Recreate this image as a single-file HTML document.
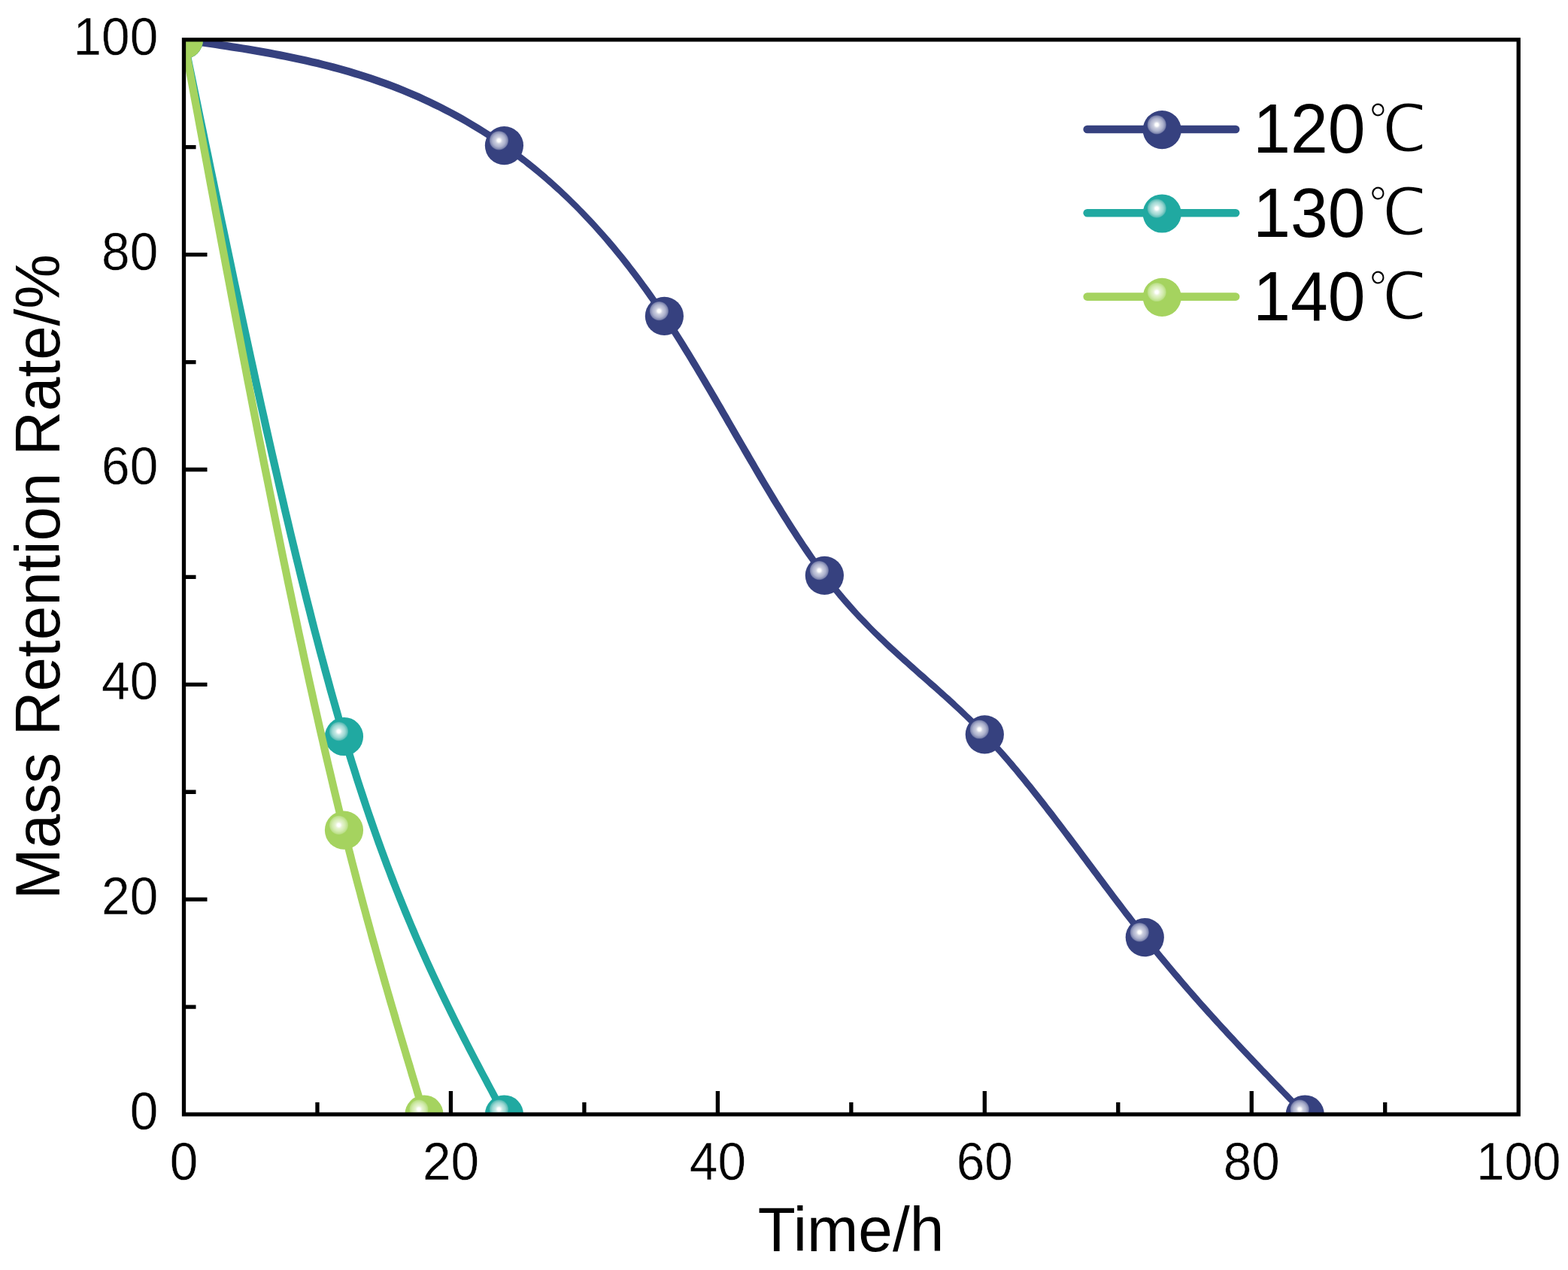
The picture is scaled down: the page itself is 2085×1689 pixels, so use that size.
<!DOCTYPE html>
<html lang="en"><head><meta charset="utf-8"><title>Mass Retention Rate vs Time</title>
<style>html,body{margin:0;padding:0;background:#fff;}body{width:2085px;height:1689px;overflow:hidden;}svg{display:block;}text{font-family:"Liberation Sans",sans-serif;fill:#000;stroke:#fff;stroke-width:0.4px;}.cjk{font-family:"Liberation Sans","WenQuanYi Zen Hei","Noto Sans CJK SC",sans-serif;}</style></head><body>
<svg width="2085" height="1689" viewBox="0 0 2085 1689">
<defs>
<clipPath id="plot"><rect x="244.50" y="52.80" width="1774.70" height="1429.20"/></clipPath>
<radialGradient id="g0" cx="0.5" cy="0.5" r="0.5"><stop offset="0" stop-color="#ffffff"/><stop offset="0.15" stop-color="#ffffff"/><stop offset="0.36" stop-color="#cdd0e0"/><stop offset="0.68" stop-color="#acb1cc"/><stop offset="0.9" stop-color="#848bb2"/><stop offset="1" stop-color="#5f689a"/></radialGradient>
<g id="m0"><circle cx="0" cy="0" r="25.60" fill="#36417f"/><circle cx="-7" cy="-6.8" r="12.6" fill="url(#g0)"/></g>
<radialGradient id="g1" cx="0.5" cy="0.5" r="0.5"><stop offset="0" stop-color="#ffffff"/><stop offset="0.15" stop-color="#ffffff"/><stop offset="0.36" stop-color="#c8e9e6"/><stop offset="0.68" stop-color="#9cd7d2"/><stop offset="0.9" stop-color="#68c1bb"/><stop offset="1" stop-color="#44b4ad"/></radialGradient>
<g id="m1"><circle cx="0" cy="0" r="25.60" fill="#20a9a1"/><circle cx="-7" cy="-6.8" r="12.6" fill="url(#g1)"/></g>
<radialGradient id="g2" cx="0.5" cy="0.5" r="0.5"><stop offset="0" stop-color="#ffffff"/><stop offset="0.15" stop-color="#ffffff"/><stop offset="0.36" stop-color="#e6f3d1"/><stop offset="0.68" stop-color="#d2ebad"/><stop offset="0.9" stop-color="#bfe18e"/><stop offset="1" stop-color="#b0db75"/></radialGradient>
<g id="m2"><circle cx="0" cy="0" r="25.60" fill="#a5d35f"/><circle cx="-7" cy="-6.8" r="12.6" fill="url(#g2)"/></g>
</defs>
<rect x="0" y="0" width="2085" height="1689" fill="#ffffff"/>
<g clip-path="url(#plot)">
<path d="M243.8 57.9L250.9 58.9L258.0 60.0L265.1 61.0L272.1 62.0L279.2 63.1L286.3 64.1L293.4 65.2L300.5 66.3L307.6 67.4L314.7 68.5L321.8 69.6L328.8 70.8L335.9 72.0L343.0 73.2L350.1 74.4L357.2 75.7L364.2 77.0L371.3 78.4L378.4 79.8L385.4 81.2L392.5 82.7L399.6 84.2L406.6 85.8L413.7 87.4L420.8 89.0L427.8 90.8L434.9 92.6L442.0 94.4L449.0 96.3L456.1 98.3L463.1 100.3L470.2 102.4L477.3 104.5L484.3 106.8L491.4 109.1L498.4 111.5L505.5 113.9L512.5 116.5L519.6 119.1L526.6 121.8L533.7 124.6L540.8 127.5L547.8 130.5L554.9 133.6L561.9 136.7L569.0 140.0L576.0 143.4L583.1 146.8L590.1 150.4L597.2 154.1L604.3 157.9L611.3 161.8L618.4 165.8L625.4 169.9L632.5 174.2L639.6 178.5L646.6 183.0L653.7 187.7L660.8 192.4L667.8 197.3L671.4 199.8L674.9 202.3L678.4 204.8L682.0 207.4L685.5 210.0L689.0 212.7L692.6 215.4L696.1 218.1L699.6 220.9L703.2 223.7L706.7 226.5L710.3 229.4L713.8 232.3L717.3 235.3L720.9 238.3L724.4 241.3L728.0 244.4L731.5 247.5L735.0 250.7L738.6 253.9L742.1 257.1L745.7 260.4L749.2 263.8L752.7 267.1L756.3 270.6L759.8 274.0L763.4 277.5L766.9 281.1L770.4 284.8L773.9 288.4L777.4 292.2L781.0 295.9L784.5 299.8L788.0 303.6L791.5 307.5L795.0 311.5L798.6 315.5L802.1 319.6L805.6 323.7L809.1 327.9L812.6 332.1L816.2 336.4L819.7 340.7L823.2 345.1L826.7 349.5L830.2 354.0L833.8 358.6L837.3 363.2L840.8 367.8L844.3 372.6L847.9 377.3L851.4 382.2L854.9 387.0L858.4 392.0L861.9 397.0L865.5 402.1L869.0 407.2L872.5 412.4L876.1 417.6L879.6 422.9L883.1 428.3L886.6 433.7L890.2 439.2L893.7 444.7L897.2 450.3L900.8 456.0L904.3 461.7L907.8 467.4L911.4 473.2L914.9 479.0L918.4 484.9L922.0 490.8L925.5 496.7L929.1 502.7L932.6 508.7L936.1 514.7L939.7 520.7L943.2 526.8L946.8 532.9L950.3 538.9L953.9 545.1L957.4 551.2L961.0 557.3L964.5 563.4L968.1 569.6L971.6 575.7L975.2 581.9L978.7 588.0L982.3 594.1L985.8 600.3L989.4 606.4L992.9 612.5L996.5 618.5L1000.0 624.6L1003.6 630.7L1007.1 636.7L1010.7 642.7L1014.3 648.7L1017.8 654.6L1021.4 660.5L1024.9 666.4L1028.5 672.2L1032.1 678.0L1035.6 683.8L1039.2 689.5L1042.8 695.1L1046.3 700.7L1049.9 706.3L1053.5 711.8L1057.0 717.3L1060.6 722.6L1064.2 728.0L1067.7 733.2L1071.3 738.4L1074.9 743.6L1078.5 748.6L1082.1 753.6L1085.6 758.5L1089.2 763.3L1092.8 768.1L1096.4 772.7L1100.0 777.3L1103.6 781.8L1107.2 786.2L1110.8 790.6L1114.4 794.9L1117.9 799.1L1121.5 803.2L1125.1 807.2L1128.7 811.2L1132.3 815.2L1135.9 819.1L1139.5 822.9L1143.0 826.6L1146.6 830.3L1150.2 834.0L1153.8 837.6L1157.4 841.2L1160.9 844.7L1164.5 848.2L1168.0 851.7L1171.6 855.1L1175.1 858.5L1178.7 861.9L1182.2 865.2L1185.8 868.5L1189.4 871.8L1192.9 875.0L1196.5 878.2L1200.0 881.4L1203.6 884.6L1207.1 887.8L1210.7 890.9L1214.2 894.1L1217.8 897.2L1221.3 900.4L1224.9 903.5L1228.4 906.6L1232.0 909.7L1235.5 912.9L1239.1 916.0L1242.6 919.1L1246.2 922.3L1249.7 925.5L1253.3 928.6L1256.8 931.8L1260.3 935.0L1263.9 938.3L1267.4 941.5L1271.0 944.8L1274.5 948.1L1278.1 951.5L1281.6 954.8L1285.2 958.2L1288.7 961.7L1292.2 965.2L1295.8 968.7L1299.3 972.3L1302.8 975.9L1306.3 979.6L1309.8 983.4L1313.4 987.2L1316.9 991.0L1320.4 994.9L1323.9 998.9L1327.4 1002.8L1331.0 1006.9L1334.5 1010.9L1338.0 1015.1L1341.5 1019.2L1345.1 1023.4L1348.6 1027.6L1352.1 1031.9L1355.7 1036.2L1359.2 1040.5L1362.7 1044.9L1366.3 1049.3L1369.8 1053.8L1373.3 1058.2L1376.9 1062.7L1380.4 1067.2L1383.9 1071.7L1387.5 1076.3L1391.0 1080.9L1394.6 1085.5L1398.1 1090.1L1401.6 1094.8L1405.2 1099.4L1408.7 1104.1L1412.3 1108.8L1415.8 1113.5L1419.3 1118.2L1422.9 1122.9L1426.4 1127.6L1430.0 1132.4L1433.5 1137.1L1437.1 1141.9L1440.6 1146.6L1444.2 1151.4L1447.7 1156.1L1451.3 1160.9L1454.8 1165.6L1458.4 1170.4L1461.9 1175.1L1465.5 1179.9L1469.0 1184.6L1472.6 1189.3L1476.1 1194.0L1479.7 1198.7L1483.3 1203.4L1486.8 1208.1L1490.4 1212.8L1493.9 1217.4L1497.5 1222.0L1501.0 1226.6L1504.6 1231.2L1508.2 1235.8L1511.7 1240.3L1515.3 1244.8L1518.9 1249.3L1522.4 1253.8L1526.0 1258.2L1529.5 1262.6L1533.1 1267.0L1536.7 1271.4L1540.2 1275.7L1543.8 1280.0L1547.4 1284.3L1550.9 1288.6L1554.5 1292.8L1558.0 1297.0L1561.6 1301.2L1565.2 1305.4L1568.7 1309.5L1572.3 1313.7L1575.8 1317.8L1579.4 1321.8L1583.0 1325.9L1586.5 1330.0L1590.1 1334.0L1593.6 1338.0L1597.2 1342.0L1600.8 1346.0L1604.3 1349.9L1607.9 1353.8L1611.4 1357.8L1615.0 1361.7L1618.6 1365.6L1622.1 1369.5L1625.7 1373.3L1629.2 1377.2L1632.8 1381.0L1636.4 1384.8L1639.9 1388.6L1643.5 1392.4L1647.0 1396.2L1650.6 1400.0L1654.1 1403.8L1657.7 1407.5L1661.2 1411.3L1664.8 1415.0L1668.4 1418.7L1671.9 1422.5L1675.5 1426.2L1679.0 1429.9L1682.6 1433.6L1686.1 1437.3L1689.7 1440.9L1693.2 1444.6L1696.8 1448.3L1700.3 1452.0L1703.9 1455.6L1707.4 1459.3L1711.0 1463.0L1714.5 1466.6L1718.1 1470.3L1721.6 1473.9L1725.2 1477.6L1728.7 1481.2L1732.3 1484.9L1738.2 1479.1L1734.7 1475.5L1731.1 1471.8L1727.6 1468.2L1724.0 1464.5L1720.5 1460.9L1716.9 1457.2L1713.4 1453.6L1709.8 1449.9L1706.3 1446.2L1702.7 1442.6L1699.2 1438.9L1695.6 1435.2L1692.1 1431.5L1688.5 1427.8L1685.0 1424.1L1681.4 1420.4L1677.9 1416.7L1674.4 1413.0L1670.8 1409.3L1667.3 1405.6L1663.7 1401.8L1660.2 1398.1L1656.6 1394.3L1653.1 1390.5L1649.6 1386.7L1646.0 1382.9L1642.5 1379.1L1638.9 1375.3L1635.4 1371.5L1631.9 1367.6L1628.3 1363.8L1624.8 1359.9L1621.2 1356.0L1617.7 1352.1L1614.2 1348.2L1610.6 1344.3L1607.1 1340.3L1603.5 1336.3L1600.0 1332.4L1596.5 1328.4L1592.9 1324.3L1589.4 1320.3L1585.8 1316.2L1582.3 1312.2L1578.8 1308.1L1575.2 1303.9L1571.7 1299.8L1568.2 1295.6L1564.6 1291.5L1561.1 1287.3L1557.5 1283.0L1554.0 1278.8L1550.5 1274.5L1546.9 1270.2L1543.4 1265.9L1539.9 1261.5L1536.3 1257.2L1532.8 1252.8L1529.3 1248.3L1525.7 1243.9L1522.2 1239.4L1518.6 1234.9L1515.1 1230.4L1511.6 1225.8L1508.0 1221.2L1504.5 1216.6L1500.9 1212.0L1497.4 1207.4L1493.9 1202.7L1490.3 1198.1L1486.8 1193.4L1483.2 1188.7L1479.7 1184.0L1476.1 1179.3L1472.6 1174.5L1469.1 1169.8L1465.5 1165.1L1462.0 1160.3L1458.4 1155.6L1454.9 1150.8L1451.3 1146.0L1447.8 1141.3L1444.2 1136.5L1440.7 1131.8L1437.1 1127.0L1433.6 1122.3L1430.0 1117.6L1426.5 1112.8L1422.9 1108.1L1419.3 1103.4L1415.8 1098.7L1412.2 1094.1L1408.7 1089.4L1405.1 1084.7L1401.6 1080.1L1398.0 1075.5L1394.4 1070.9L1390.9 1066.3L1387.3 1061.8L1383.8 1057.3L1380.2 1052.8L1376.6 1048.3L1373.1 1043.8L1369.5 1039.4L1365.9 1035.1L1362.4 1030.7L1358.8 1026.4L1355.2 1022.1L1351.7 1017.9L1348.1 1013.6L1344.5 1009.5L1340.9 1005.3L1337.4 1001.3L1333.8 997.2L1330.2 993.2L1326.6 989.3L1323.1 985.3L1319.5 981.5L1315.9 977.7L1312.3 973.9L1308.7 970.2L1305.2 966.6L1301.6 962.9L1298.0 959.4L1294.5 955.8L1290.9 952.3L1287.3 948.9L1283.8 945.4L1280.2 942.1L1276.7 938.7L1273.1 935.4L1269.6 932.1L1266.0 928.8L1262.5 925.6L1258.9 922.4L1255.4 919.2L1251.8 916.0L1248.2 912.8L1244.7 909.6L1241.1 906.5L1237.6 903.4L1234.0 900.2L1230.5 897.1L1226.9 894.0L1223.4 890.9L1219.8 887.7L1216.3 884.6L1212.8 881.4L1209.2 878.3L1205.7 875.1L1202.1 872.0L1198.6 868.8L1195.0 865.6L1191.5 862.3L1187.9 859.1L1184.4 855.8L1180.8 852.5L1177.3 849.1L1173.8 845.7L1170.2 842.3L1166.7 838.9L1163.1 835.4L1159.6 831.9L1156.1 828.3L1152.6 824.6L1149.1 820.9L1145.5 817.2L1142.0 813.4L1138.5 809.5L1135.0 805.6L1131.5 801.6L1128.0 797.6L1124.5 793.5L1121.0 789.3L1117.4 785.1L1113.9 780.7L1110.4 776.4L1106.9 771.9L1103.4 767.3L1099.9 762.7L1096.4 758.0L1092.9 753.2L1089.4 748.3L1085.8 743.4L1082.3 738.4L1078.8 733.3L1075.3 728.1L1071.7 722.9L1068.2 717.6L1064.7 712.2L1061.2 706.8L1057.6 701.3L1054.1 695.8L1050.6 690.2L1047.0 684.6L1043.5 678.9L1040.0 673.1L1036.4 667.4L1032.9 661.5L1029.4 655.7L1025.8 649.8L1022.3 643.9L1018.7 637.9L1015.2 631.9L1011.7 625.9L1008.1 619.9L1004.6 613.8L1001.0 607.7L997.5 601.6L993.9 595.5L990.4 589.4L986.8 583.3L983.3 577.2L979.7 571.0L976.2 564.9L972.6 558.7L969.1 552.6L965.5 546.5L962.0 540.3L958.4 534.2L954.9 528.1L951.3 522.0L947.8 516.0L944.2 509.9L940.7 503.9L937.1 497.9L933.5 491.9L930.0 486.0L926.4 480.1L922.9 474.2L919.3 468.3L915.7 462.5L912.2 456.8L908.6 451.1L905.1 445.4L901.5 439.8L897.9 434.2L894.3 428.7L890.8 423.3L887.2 417.9L883.6 412.5L880.1 407.3L876.5 402.0L872.9 396.9L869.3 391.8L865.8 386.8L862.2 381.8L858.6 376.9L855.0 372.0L851.5 367.2L847.9 362.5L844.3 357.8L840.7 353.2L837.2 348.6L833.6 344.1L830.0 339.6L826.4 335.2L822.9 330.9L819.3 326.6L815.7 322.3L812.1 318.1L808.5 314.0L805.0 309.9L801.4 305.9L797.8 301.9L794.2 298.0L790.6 294.1L787.1 290.2L783.5 286.5L779.9 282.7L776.3 279.0L772.7 275.4L769.2 271.8L765.6 268.2L762.0 264.7L758.5 261.2L754.9 257.8L751.4 254.4L747.8 251.0L744.3 247.7L740.7 244.4L737.1 241.2L733.6 238.0L730.0 234.9L726.5 231.8L722.9 228.7L719.3 225.7L715.8 222.7L712.2 219.8L708.7 216.9L705.1 214.0L701.5 211.2L698.0 208.4L694.4 205.7L690.8 202.9L687.3 200.3L683.7 197.6L680.2 195.0L676.6 192.4L673.0 189.9L665.9 184.9L658.8 180.0L651.6 175.3L644.5 170.7L637.4 166.2L630.2 161.9L623.1 157.7L616.0 153.6L608.8 149.6L601.7 145.7L594.5 141.9L587.4 138.2L580.3 134.7L573.1 131.2L566.0 127.9L558.8 124.6L551.7 121.5L544.5 118.4L537.4 115.5L530.3 112.6L523.1 109.8L516.0 107.1L508.8 104.5L501.7 102.0L494.5 99.6L487.4 97.2L480.3 94.9L473.1 92.7L466.0 90.6L458.8 88.5L451.7 86.5L444.6 84.6L437.4 82.7L430.3 80.9L423.2 79.1L416.0 77.4L408.9 75.8L401.8 74.2L394.6 72.7L387.5 71.2L380.4 69.7L373.3 68.3L366.1 66.9L359.0 65.6L351.9 64.3L344.8 63.0L337.6 61.8L330.5 60.6L323.4 59.4L316.3 58.3L309.2 57.2L302.1 56.1L295.0 55.0L287.9 53.9L280.7 52.8L273.6 51.8L266.5 50.8L259.4 49.7L252.3 48.7L245.2 47.7Z" fill="#36417f"/>
<use href="#m0" x="244.50" y="52.80"/>
<use href="#m0" x="670.43" y="193.58"/>
<use href="#m0" x="883.39" y="420.39"/>
<use href="#m0" x="1096.36" y="765.40"/>
<use href="#m0" x="1309.32" y="976.78"/>
<use href="#m0" x="1522.28" y="1246.61"/>
<use href="#m0" x="1735.25" y="1482.00"/>
<path d="M239.5 53.8L243.0 71.0L246.6 88.3L250.1 105.5L253.7 122.7L257.2 139.8L260.8 157.0L264.3 174.2L267.9 191.3L271.4 208.4L275.0 225.5L278.5 242.5L282.1 259.5L285.6 276.5L289.2 293.5L292.7 310.4L296.3 327.2L299.8 344.1L303.4 360.8L306.9 377.5L310.5 394.2L314.0 410.8L317.6 427.3L321.1 443.8L324.7 460.2L328.2 476.5L331.8 492.8L335.3 509.0L338.9 525.1L342.4 541.1L346.0 557.0L349.5 572.9L353.1 588.6L356.6 604.3L360.2 619.9L363.8 635.3L367.3 650.7L370.9 665.9L374.4 681.1L378.0 696.1L381.5 711.1L385.1 725.9L388.6 740.5L392.2 755.1L395.7 769.5L399.3 783.8L402.8 798.0L406.4 812.1L409.9 826.0L413.5 839.7L417.1 853.3L420.6 866.8L424.2 880.1L427.7 893.3L431.3 906.3L434.8 919.2L438.4 931.8L442.0 944.4L445.5 956.7L449.1 968.9L452.6 980.9L456.2 992.8L459.7 1004.4L463.3 1015.9L466.9 1027.3L470.4 1038.4L474.0 1049.4L477.5 1060.3L481.1 1071.0L484.7 1081.5L488.2 1091.9L491.8 1102.1L495.4 1112.2L498.9 1122.2L502.5 1132.0L506.0 1141.6L509.6 1151.2L513.2 1160.6L516.7 1169.9L520.3 1179.0L523.9 1188.1L527.4 1197.0L531.0 1205.8L534.5 1214.5L538.1 1223.1L541.7 1231.6L545.2 1240.0L548.8 1248.2L552.4 1256.4L555.9 1264.5L559.5 1272.5L563.1 1280.4L566.6 1288.2L570.2 1296.0L573.7 1303.6L577.3 1311.2L580.9 1318.7L584.4 1326.1L588.0 1333.5L591.6 1340.8L595.1 1348.1L598.7 1355.2L602.2 1362.4L605.8 1369.4L609.4 1376.4L612.9 1383.4L616.5 1390.3L620.0 1397.2L623.6 1404.1L627.2 1410.9L630.7 1417.7L634.3 1424.4L637.8 1431.1L641.4 1437.8L644.9 1444.5L648.5 1451.1L652.0 1457.8L655.6 1464.4L659.1 1471.0L662.7 1477.6L666.2 1484.3L674.6 1479.7L671.1 1473.1L667.5 1466.5L664.0 1459.9L660.4 1453.3L656.9 1446.7L653.3 1440.0L649.8 1433.3L646.2 1426.7L642.7 1419.9L639.2 1413.2L635.6 1406.4L632.1 1399.7L628.5 1392.8L625.0 1386.0L621.5 1379.0L617.9 1372.1L614.4 1365.1L610.8 1358.0L607.3 1350.9L603.8 1343.8L600.2 1336.6L596.7 1329.3L593.2 1322.0L589.6 1314.5L586.1 1307.1L582.5 1299.5L579.0 1291.9L575.5 1284.2L571.9 1276.4L568.4 1268.5L564.9 1260.6L561.3 1252.5L557.8 1244.4L554.3 1236.1L550.7 1227.8L547.2 1219.3L543.7 1210.8L540.1 1202.1L536.6 1193.3L533.0 1184.5L529.5 1175.4L526.0 1166.3L522.4 1157.1L518.9 1147.7L515.4 1138.2L511.8 1128.6L508.3 1118.8L504.8 1108.9L501.2 1098.8L497.7 1088.6L494.1 1078.3L490.6 1067.8L487.1 1057.1L483.5 1046.3L480.0 1035.4L476.5 1024.2L472.9 1012.9L469.4 1001.5L465.8 989.9L462.3 978.1L458.8 966.1L455.2 953.9L451.7 941.6L448.1 929.1L444.6 916.4L441.1 903.6L437.5 890.6L434.0 877.5L430.4 864.2L426.9 850.8L423.3 837.2L419.8 823.4L416.3 809.6L412.7 795.5L409.2 781.4L405.6 767.1L402.1 752.7L398.5 738.1L395.0 723.5L391.4 708.7L387.9 693.8L384.3 678.8L380.8 663.6L377.3 648.4L373.7 633.0L370.2 617.6L366.6 602.0L363.1 586.4L359.5 570.6L356.0 554.8L352.4 538.9L348.9 522.9L345.3 506.8L341.8 490.6L338.2 474.3L334.7 458.0L331.1 441.6L327.6 425.2L324.0 408.6L320.5 392.0L316.9 375.4L313.4 358.7L309.9 341.9L306.3 325.1L302.8 308.3L299.2 291.4L295.7 274.4L292.1 257.5L288.6 240.4L285.0 223.4L281.5 206.3L277.9 189.2L274.4 172.1L270.8 154.9L267.3 137.8L263.7 120.6L260.2 103.4L256.6 86.2L253.1 69.0L249.5 51.8Z" fill="#20a9a1"/>
<use href="#m1" x="244.50" y="52.80"/>
<use href="#m1" x="457.46" y="979.49"/>
<use href="#m1" x="670.43" y="1482.00"/>
<path d="M239.4 53.7L243.0 72.9L246.5 92.1L250.1 111.2L253.6 130.4L257.2 149.5L260.7 168.6L264.3 187.7L267.8 206.8L271.4 225.9L274.9 244.9L278.5 263.9L282.0 282.9L285.6 301.9L289.1 320.8L292.7 339.7L296.2 358.5L299.8 377.3L303.3 396.0L306.9 414.7L310.4 433.4L314.0 452.0L317.5 470.5L321.1 489.0L324.6 507.4L328.2 525.7L331.7 544.0L335.3 562.2L338.8 580.4L342.4 598.4L345.9 616.4L349.5 634.3L353.1 652.1L356.6 669.8L360.2 687.5L363.7 705.0L367.3 722.4L370.8 739.8L374.4 757.0L377.9 774.2L381.5 791.2L385.0 808.1L388.6 825.0L392.1 841.7L395.7 858.2L399.2 874.7L402.8 891.0L406.3 907.3L409.9 923.3L413.4 939.3L417.0 955.1L420.5 970.8L424.1 986.3L427.6 1001.7L431.2 1017.0L434.8 1032.1L438.3 1047.1L441.9 1061.9L445.4 1076.5L449.0 1091.0L452.5 1105.4L454.3 1112.5L456.1 1119.5L457.9 1126.5L459.6 1133.5L461.4 1140.5L463.2 1147.4L465.0 1154.3L466.7 1161.1L468.5 1167.9L470.3 1174.7L472.1 1181.4L473.9 1188.1L475.6 1194.8L477.4 1201.4L479.2 1208.0L481.0 1214.6L482.7 1221.1L484.5 1227.6L486.3 1234.1L488.1 1240.5L489.8 1247.0L491.6 1253.4L493.4 1259.7L495.2 1266.1L497.0 1272.4L498.7 1278.7L500.5 1285.0L502.3 1291.2L504.1 1297.5L505.8 1303.7L507.6 1309.9L509.4 1316.0L511.2 1322.2L512.9 1328.3L514.7 1334.4L516.5 1340.5L518.3 1346.6L520.1 1352.7L521.8 1358.7L523.6 1364.8L525.4 1370.8L527.2 1376.8L528.9 1382.8L530.7 1388.8L532.5 1394.7L534.3 1400.7L536.0 1406.7L537.8 1412.6L539.6 1418.5L541.4 1424.5L543.1 1430.4L544.9 1436.3L546.7 1442.2L548.5 1448.1L550.2 1454.0L552.0 1459.9L553.8 1465.8L555.6 1471.7L557.3 1477.6L559.1 1483.5L568.8 1480.5L567.0 1474.7L565.2 1468.8L563.5 1462.9L561.7 1457.0L559.9 1451.1L558.1 1445.2L556.4 1439.3L554.6 1433.4L552.8 1427.5L551.0 1421.6L549.3 1415.6L547.5 1409.7L545.7 1403.8L543.9 1397.8L542.2 1391.9L540.4 1385.9L538.6 1379.9L536.8 1373.9L535.1 1367.9L533.3 1361.9L531.5 1355.9L529.8 1349.8L528.0 1343.8L526.2 1337.7L524.4 1331.6L522.7 1325.5L520.9 1319.4L519.1 1313.2L517.3 1307.1L515.6 1300.9L513.8 1294.7L512.0 1288.5L510.3 1282.2L508.5 1276.0L506.7 1269.7L504.9 1263.4L503.2 1257.0L501.4 1250.7L499.6 1244.3L497.8 1237.9L496.1 1231.4L494.3 1224.9L492.5 1218.4L490.8 1211.9L489.0 1205.4L487.2 1198.8L485.4 1192.1L483.7 1185.5L481.9 1178.8L480.1 1172.1L478.4 1165.3L476.6 1158.5L474.8 1151.7L473.0 1144.9L471.3 1138.0L469.5 1131.0L467.7 1124.0L465.9 1117.0L464.2 1110.0L462.4 1102.9L458.9 1088.6L455.3 1074.1L451.8 1059.5L448.2 1044.7L444.7 1029.8L441.1 1014.7L437.6 999.4L434.0 984.1L430.5 968.5L427.0 952.9L423.4 937.1L419.9 921.1L416.3 905.1L412.8 888.9L409.2 872.5L405.7 856.1L402.1 839.5L398.6 822.8L395.0 806.0L391.5 789.1L387.9 772.1L384.4 755.0L380.8 737.7L377.3 720.4L373.8 703.0L370.2 685.4L366.7 667.8L363.1 650.1L359.6 632.3L356.0 614.4L352.5 596.4L348.9 578.4L345.4 560.3L341.8 542.1L338.3 523.8L334.7 505.5L331.2 487.1L327.6 468.6L324.1 450.1L320.5 431.5L317.0 412.8L313.4 394.1L309.9 375.4L306.3 356.6L302.8 337.8L299.2 318.9L295.7 300.0L292.1 281.0L288.6 262.1L285.0 243.0L281.5 224.0L277.9 204.9L274.4 185.9L270.8 166.7L267.3 147.6L263.8 128.5L260.2 109.3L256.7 90.2L253.1 71.0L249.6 51.9Z" fill="#a5d35f"/>
<use href="#m2" x="244.50" y="52.80"/>
<use href="#m2" x="457.46" y="1104.12"/>
<use href="#m2" x="563.95" y="1482.00"/>
</g>
<g stroke="#000" stroke-width="5.3" fill="none">
<rect x="244.50" y="52.80" width="1774.70" height="1429.20"/>
<path d="M421.97 1482.00 v-16.00 M244.50 1339.08 h16.00 M599.44 1482.00 v-31.00 M244.50 1196.16 h31.00 M776.91 1482.00 v-16.00 M244.50 1053.24 h16.00 M954.38 1482.00 v-31.00 M244.50 910.32 h31.00 M1131.85 1482.00 v-16.00 M244.50 767.40 h16.00 M1309.32 1482.00 v-31.00 M244.50 624.48 h31.00 M1486.79 1482.00 v-16.00 M244.50 481.56 h16.00 M1664.26 1482.00 v-31.00 M244.50 338.64 h31.00 M1841.73 1482.00 v-16.00 M244.50 195.72 h16.00"/>
</g>
<text transform="translate(244.50 1568.60) scale(1 1.0350)" font-size="67.5" text-anchor="middle">0</text>
<text transform="translate(599.44 1568.60) scale(1 1.0350)" font-size="67.5" text-anchor="middle">20</text>
<text transform="translate(954.38 1568.60) scale(1 1.0350)" font-size="67.5" text-anchor="middle">40</text>
<text transform="translate(1309.32 1568.60) scale(1 1.0350)" font-size="67.5" text-anchor="middle">60</text>
<text transform="translate(1664.26 1568.60) scale(1 1.0350)" font-size="67.5" text-anchor="middle">80</text>
<text transform="translate(2019.20 1568.60) scale(1 1.0350)" font-size="67.5" text-anchor="middle">100</text>
<text transform="translate(210.20 1502.00) scale(1 1.0350)" font-size="67.5" text-anchor="end">0</text>
<text transform="translate(210.20 1216.16) scale(1 1.0350)" font-size="67.5" text-anchor="end">20</text>
<text transform="translate(210.20 930.32) scale(1 1.0350)" font-size="67.5" text-anchor="end">40</text>
<text transform="translate(210.20 644.48) scale(1 1.0350)" font-size="67.5" text-anchor="end">60</text>
<text transform="translate(210.20 358.64) scale(1 1.0350)" font-size="67.5" text-anchor="end">80</text>
<text transform="translate(210.20 72.80) scale(1 1.0350)" font-size="67.5" text-anchor="end">100</text>
<text transform="translate(1131.50 1664.30) scale(1 1.0200)" font-size="82" text-anchor="middle" style="stroke:none">Time/h</text>
<text transform="translate(78.50 767.20) rotate(-90) scale(1 1.0200)" font-size="81.7" text-anchor="middle" style="stroke:none">Mass Retention Rate/%</text>
<rect x="1440.4" y="166.70" width="208" height="10.6" rx="5.3" fill="#36417f"/>
<use href="#m0" x="1545.2" y="172.70"/>
<text transform="translate(1666.30 203.20) scale(1 1.0350)" font-size="89.5" text-anchor="start" style="stroke:none">120<tspan class="cjk" font-size="84" dx="3.6" dy="-2" stroke="#fff" stroke-width="1.9">℃</tspan></text>
<rect x="1440.4" y="278.00" width="208" height="10.6" rx="5.3" fill="#20a9a1"/>
<use href="#m1" x="1545.2" y="284.00"/>
<text transform="translate(1666.30 314.50) scale(1 1.0350)" font-size="89.5" text-anchor="start" style="stroke:none">130<tspan class="cjk" font-size="84" dx="3.6" dy="-2" stroke="#fff" stroke-width="1.9">℃</tspan></text>
<rect x="1440.4" y="389.30" width="208" height="10.6" rx="5.3" fill="#a5d35f"/>
<use href="#m2" x="1545.2" y="395.30"/>
<text transform="translate(1666.30 425.80) scale(1 1.0350)" font-size="89.5" text-anchor="start" style="stroke:none">140<tspan class="cjk" font-size="84" dx="3.6" dy="-2" stroke="#fff" stroke-width="1.9">℃</tspan></text>
</svg></body></html>
